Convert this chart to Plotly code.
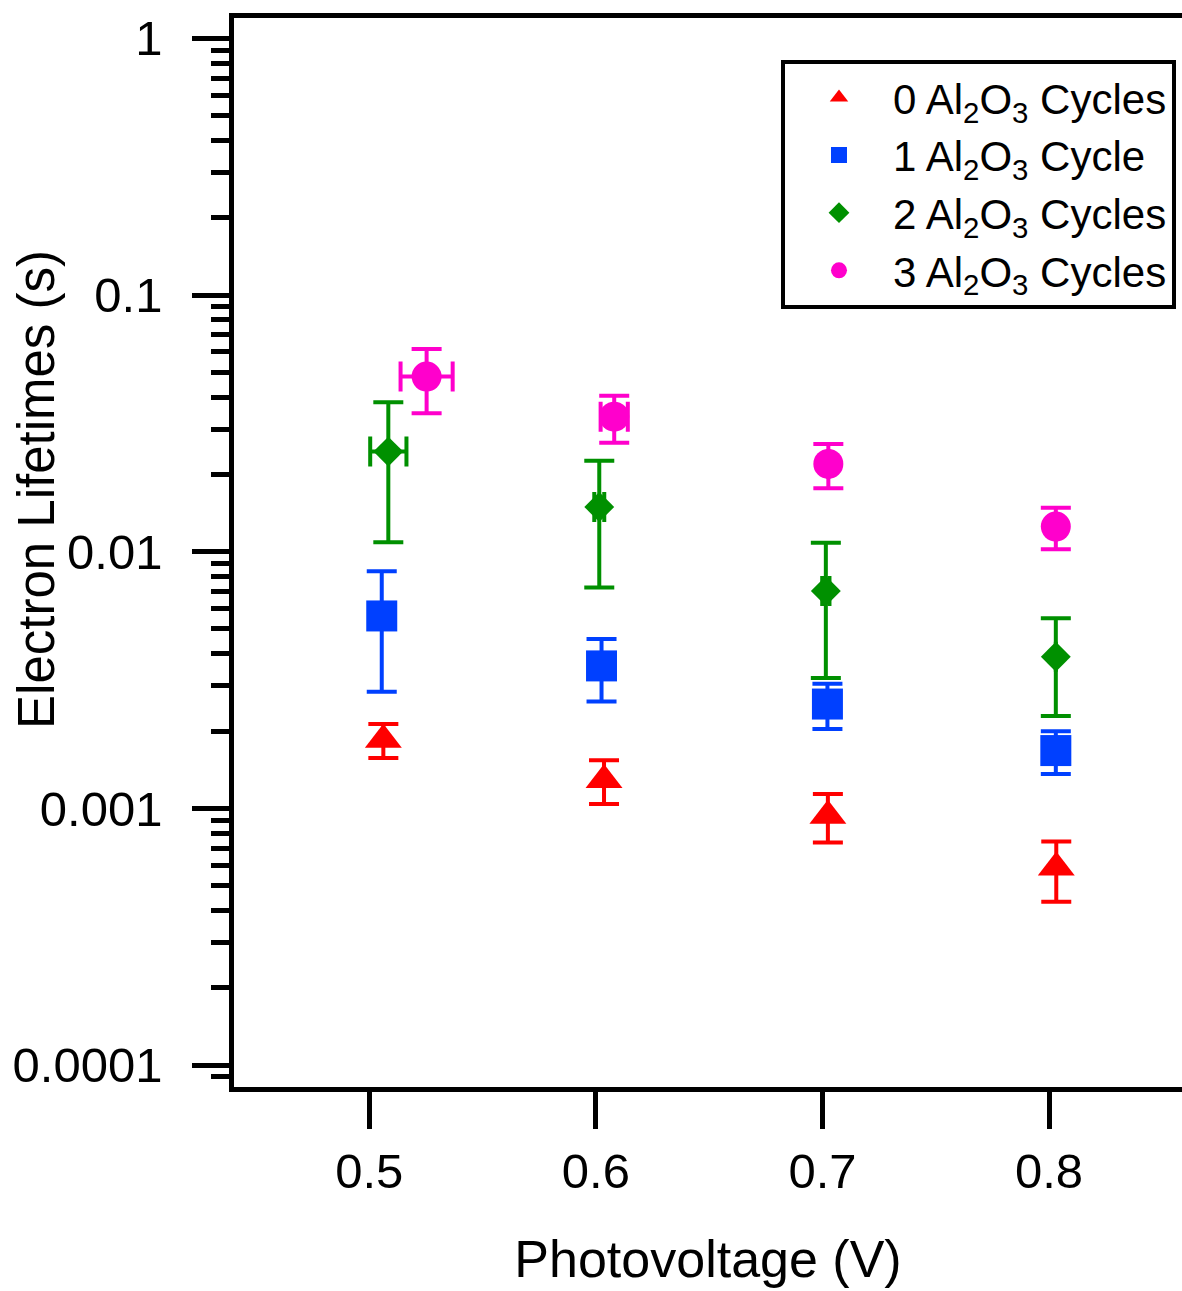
import plotly.graph_objects as go

# ---- data ----
series_names = ["0 Al<sub>2</sub>O<sub>3</sub> Cycles", "1 Al<sub>2</sub>O<sub>3</sub> Cycle",
                "2 Al<sub>2</sub>O<sub>3</sub> Cycles", "3 Al<sub>2</sub>O<sub>3</sub> Cycles"]

x0 = [0.5062, 0.6036, 0.7024, 0.8032]
y0 = [0.00185, 0.00129, 0.000937, 0.000588]
ey0 = [0.00028, 0.00025, 0.00020, 0.000155]

x1 = [0.5055, 0.6025, 0.7022, 0.8030]
y1 = [0.00562, 0.00359, 0.00255, 0.00168]
ey1 = [0.00277, 0.00098, 0.00051, 0.00032]

x2 = [0.5084, 0.6015, 0.7015, 0.8030]
y2 = [0.02454, 0.01494, 0.00703, 0.0039]
ey2 = [0.01366, 0.00768, 0.00381, 0.00161]
ex2 = [0.008, 0.0022, 0.0016, 0.0]

x3 = [0.5253, 0.6081, 0.7026, 0.8030]
y3 = [0.0481, 0.03356, 0.02197, 0.01253]
ey3 = [0.0135, 0.00698, 0.0043, 0.00231]
ex3 = [0.0115, 0.006, 0.0, 0.0]

x_tickvals = [0.5, 0.6, 0.7, 0.8]
x_ticktext = ["0.5", "0.6", "0.7", "0.8"]
y_tickvals = [1, 0.1, 0.01, 0.001, 0.0001]
y_ticktext = ["1", "0.1", "0.01", "0.001", "0.0001"]

colors = ["#FF0000", "#0040FF", "#009000", "#FF00CC"]
symbols = ["triangle-up", "square", "diamond", "circle"]
sizes = [32, 31, 23, 30]

FONT = "Liberation Sans, Arial, sans-serif"

fig = go.Figure()

data = [(x0, y0, ey0, None), (x1, y1, ey1, None), (x2, y2, ey2, ex2), (x3, y3, ey3, ex3)]
for i, (xs, ys, eys, exs) in enumerate(data):
    tr = dict(
        x=xs, y=ys, mode="markers", name=series_names[i],
        marker=dict(symbol=symbols[i], size=sizes[i], color=colors[i], line=dict(width=0)),
        error_y=dict(type="data", array=eys, visible=True, color=colors[i], thickness=4, width=15),
    )
    if exs is not None:
        tr["error_x"] = dict(type="data", array=exs, visible=True, color=colors[i], thickness=4, width=15)
    fig.add_trace(go.Scatter(**tr))

minor_vals = [m * 10.0 ** e for e in range(-5, 1) for m in range(2, 10)]

fig.update_layout(
    width=1182, height=1291,
    margin=dict(l=234, r=0, t=18, b=204),
    paper_bgcolor="white", plot_bgcolor="white",
    font=dict(family=FONT, color="black"),
    showlegend=True,
    legend=dict(
        x=0.577, y=0.961, xanchor="left", yanchor="top",
        bordercolor="black", borderwidth=4, bgcolor="white",
        font=dict(family=FONT, size=42, color="black"),
        itemwidth=98,
    ),
    xaxis=dict(
        range=[0.44029, 0.85869],
        tickmode="array", tickvals=x_tickvals, ticktext=x_ticktext,
        ticks="outside", ticklen=37, tickwidth=4.5, tickcolor="black",
        showline=True, linewidth=4.5, linecolor="black", mirror=True,
        showgrid=False, zeroline=False,
        tickfont=dict(family=FONT, size=49, color="black"),
        ticklabelstandoff=0,
        title=dict(text="Photovoltage (V)", font=dict(family=FONT, size=52, color="black"), standoff=46),
    ),
    yaxis=dict(
        type="log", range=[-4.0853, 0.0791],
        tickmode="array", tickvals=y_tickvals, ticktext=y_ticktext,
        ticks="outside", ticklen=37, tickwidth=4.5, tickcolor="black",
        minor=dict(tickvals=minor_vals, ticks="outside", ticklen=18, tickwidth=4.5, tickcolor="black", showgrid=False),
        showline=True, linewidth=4.5, linecolor="black", mirror=False,
        showgrid=False, zeroline=False,
        tickfont=dict(family=FONT, size=49, color="black"),
        ticklabelstandoff=20,
    ),
    annotations=[dict(
        text="Electron Lifetimes (s)", textangle=-90,
        xref="paper", yref="paper", x=0, y=0.5585, xanchor="center", yanchor="middle",
        xshift=-197, showarrow=False,
        font=dict(family=FONT, size=51, color="black"),
    )],
)

fig.write_html(
    "out.html",
    config={"displayModeBar": False},
    post_script="document.body.style.margin='0';document.body.style.overflow='hidden';",
)
